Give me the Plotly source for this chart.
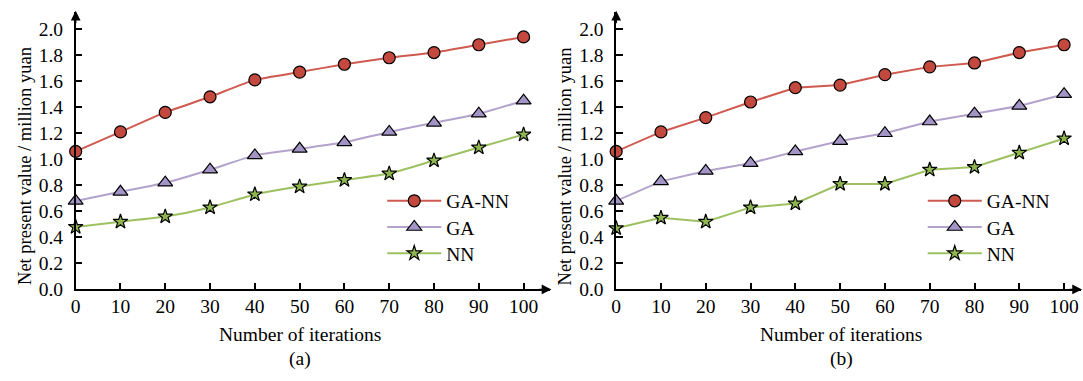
import plotly.graph_objects as go

W, H = 1083, 381

iterations = [0, 10, 20, 30, 40, 50, 60, 70, 80, 90, 100]
series_names = ["GA-NN", "GA", "NN"]

a_ga_nn = [1.06, 1.21, 1.36, 1.48, 1.61, 1.67, 1.73, 1.78, 1.82, 1.88, 1.94]
a_ga = [0.68, 0.75, 0.82, 0.92, 1.03, 1.08, 1.13, 1.21, 1.28, 1.35, 1.45]
a_nn = [0.48, 0.52, 0.56, 0.63, 0.73, 0.79, 0.84, 0.89, 0.99, 1.09, 1.19]

b_ga_nn = [1.06, 1.21, 1.32, 1.44, 1.55, 1.57, 1.65, 1.71, 1.74, 1.82, 1.88]
b_ga = [0.68, 0.83, 0.91, 0.97, 1.06, 1.14, 1.20, 1.29, 1.35, 1.41, 1.50]
b_nn = [0.47, 0.55, 0.52, 0.63, 0.66, 0.81, 0.81, 0.92, 0.94, 1.05, 1.16]

line_colors = ["#cf5a4f", "#b3a2cc", "#9dc160"]
fill_colors = ["#c3483d", "#a394c6", "#8fb64f"]
symbols = ["circle", "triangle-up", "star"]
sizes = [12, 13, 11]

FONT = "Liberation Serif, Times New Roman, serif"
FS = 19.5

fig = go.Figure()

def px_x(p):
    return p / W

def px_y(p):
    return (H - p) / H

panels = [
    dict(data=[a_ga_nn, a_ga, a_nn], xa="x", ya="y", shape="spline", leg_x=379),
    dict(data=[b_ga_nn, b_ga, b_nn], xa="x2", ya="y2", shape="linear", leg_x=922),
]
legend_rows = [206, 233, 260]

legend_common = dict(
    font=dict(family=FONT, size=FS, color="black"),
    bgcolor="rgba(0,0,0,0)", borderwidth=0,
    itemwidth=54,
    xanchor="left", yanchor="top",
)
legend_layouts = {}

k = 0
for pi, p in enumerate(panels):
    for i, (name, vals) in enumerate(zip(series_names, p["data"])):
        k += 1
        leg = "legend" if k == 1 else f"legend{k}"
        legend_layouts[leg] = dict(x=px_x(p["leg_x"]), y=px_y(legend_rows[i] - 19), **legend_common)
        fig.add_trace(go.Scatter(
            x=iterations, y=vals, name=name, mode="lines+markers",
            xaxis=p["xa"], yaxis=p["ya"], legend=leg,
            line=dict(color=line_colors[i], width=2, shape=p["shape"], smoothing=0.5),
            marker=dict(symbol=symbols[i], size=sizes[i], color=fill_colors[i],
                        line=dict(color="black", width=1.2)),
            cliponaxis=False,
        ))

y_bottom, y_top = 298, 12
y_max = 2.0 * (y_bottom - y_top) / (y_bottom - 30)

left_x0, left_x1 = 71, 548
right_x0, right_x1 = 614, 1081

def xaxis_cfg(x0, x1):
    return dict(
        domain=[px_x(x0), px_x(x1)],
        range=[0, 100 * (x1 - x0) / 450],
        tickvals=iterations, ticks="inside", ticklen=7, tickwidth=1.5, tickcolor="black",
        showline=True, linecolor="black", linewidth=1.5, showgrid=False, zeroline=False,
        tickfont=dict(family=FONT, size=FS, color="black"),
        ticklabelstandoff=-2,
    )

def yaxis_cfg(anchor):
    return dict(
        domain=[px_y(y_bottom), px_y(y_top)],
        range=[0, y_max], anchor=anchor,
        tickvals=[0, 0.2, 0.4, 0.6, 0.8, 1.0, 1.2, 1.4, 1.6, 1.8, 2.0],
        tickformat=".1f",
        ticks="inside", ticklen=7, tickwidth=1.5, tickcolor="black",
        showline=True, linecolor="black", linewidth=1.5, showgrid=False, zeroline=False,
        tickfont=dict(family=FONT, size=FS, color="black"),
        ticklabelstandoff=7,
    )

fig.update_layout(
    width=W, height=H, autosize=False,
    margin=dict(l=0, r=0, t=0, b=0, pad=0),
    paper_bgcolor="white", plot_bgcolor="white",
    showlegend=True,
    xaxis=dict(anchor="y", **xaxis_cfg(left_x0, left_x1)),
    yaxis=yaxis_cfg("x"),
    xaxis2=dict(anchor="y2", **xaxis_cfg(right_x0, right_x1)),
    yaxis2=yaxis_cfg("x2"),
    **legend_layouts,
)

# axis arrows
arrow_common = dict(showarrow=True, arrowhead=2, arrowsize=1.3, arrowwidth=1.5,
                    arrowcolor="black", text="", xref="paper", yref="paper")
for x0, x1 in [(left_x0, left_x1), (right_x0, right_x1)]:
    fig.add_annotation(x=px_x(x1 + 1), y=px_y(y_bottom), ax=-14, ay=0, **arrow_common)
    fig.add_annotation(x=px_x(x0), y=px_y(y_top - 1), ax=0, ay=14, **arrow_common)

# titles
title_font = dict(family=FONT, size=FS, color="black")
txt_common = dict(showarrow=False, xref="paper", yref="paper",
                  xanchor="center", yanchor="middle")
for xc, yt_x, label in [(296, 20, "(a)"), (840, 563, "(b)")]:
    fig.add_annotation(x=px_x(xc), y=px_y(344), text="Number of iterations",
                       font=title_font, **txt_common)
    fig.add_annotation(x=px_x(xc), y=px_y(370), text=label, font=title_font, **txt_common)
    fig.add_annotation(x=px_x(yt_x), y=px_y(171), text="Net present value / million yuan",
                       textangle=-90, font=dict(family=FONT, size=18.5, color="black"),
                       **txt_common)

fig.write_html("out.html")
